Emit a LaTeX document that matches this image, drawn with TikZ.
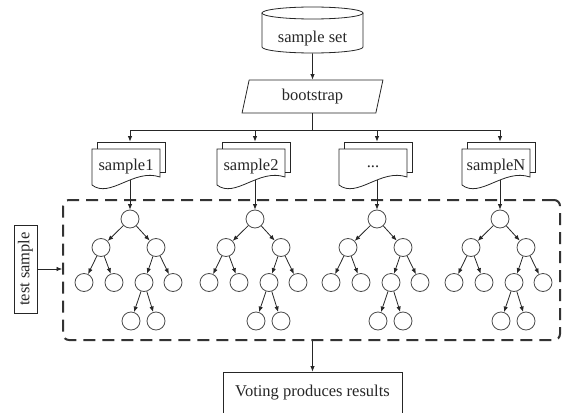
\documentclass[tikz,border=0pt]{standalone}
\usepackage{fontspec}
\setmainfont{Liberation Serif}
\usetikzlibrary{shapes.geometric,arrows.meta}
\newcommand\moredots{...}
\begin{document}
\begin{tikzpicture}[x=1pt,y=-1pt,line width=0.8pt,black!85,
	every node/.style={font=\fontsize{16.5}{18}\selectfont},
	arr/.style={-{Latex[length=5.5pt,width=4.5pt]}},
	leaf/.style={circle,draw=black!70,minimum size=18pt,inner sep=0pt},
	dashbox/.style={draw=black!80,line width=2pt,dash pattern=on 12pt off 7pt,rounded corners=6pt}]
	\useasboundingbox (0,0) rectangle (567,412);
	\clip (0,0) rectangle (567,412);
	% cylinder
	\draw (262,13) -- (262,47) arc (180:0:50.5 and 6) -- (363,13);
	\draw (312.5,13) ellipse (50.5 and 6);
	\node[minimum height=28pt,inner sep=0pt] (sset) at (312.5,39) {sample set};
	\node[trapezium,trapezium left angle=80,trapezium right angle=100,trapezium stretches=true,draw,minimum width=141pt,minimum height=33pt] (boot) at (312.5,96.5) {bootstrap};
	\draw[arr] (sset) -- (boot);
	\node[dashbox,minimum width=497pt,minimum height=140pt] (forest) at (311.5,270) {};
	\foreach \i/\x/\t in {1/130/sample1,2/255/sample2,3/377/\moredots,4/500/sampleN} {
		\coordinate (b\i) at (\x,130);
		\coordinate (w\i) at (\x,180);
		% pages
		\draw (\x-33,149) -- (\x-33,142) -- (\x+35,142) -- (\x+35,172) -- (\x+30,172);
		\draw (\x-38,149) -- (\x-38,185) .. controls (\x-20,199) and (\x+4,168) .. (\x+30,177) -- (\x+30,149) -- cycle;
		\node[minimum width=68pt,minimum height=50pt,inner sep=0pt] (d\i) at (\x-4,167) {\t};
		\draw[arr] (b\i) -- (b\i |- d\i.north);
		% tree
		\node[leaf] (r\i) at (\x,219) {};
		\node[leaf] (la\i) at (\x-29,247.5) {};
		\node[leaf] (lb\i) at (\x+26,247.5) {};
		\node[leaf] (ma\i) at (\x-46,282.5) {};
		\node[leaf] (mb\i) at (\x-16,282.5) {};
		\node[leaf] (mc\i) at (\x+14,282.5) {};
		\node[leaf] (md\i) at (\x+43,282.5) {};
		\node[leaf] (na\i) at (\x+1,321) {};
		\node[leaf] (nb\i) at (\x+26,321) {};
		\draw[arr] (w\i) -- (r\i);
		\draw[arr] (r\i) -- (la\i);
		\draw[arr] (r\i) -- (lb\i);
		\draw[arr] (la\i) -- (ma\i);
		\draw[arr] (la\i) -- (mb\i);
		\draw[arr] (lb\i) -- (mc\i);
		\draw[arr] (lb\i) -- (md\i);
		\draw[arr] (mc\i) -- (na\i);
		\draw[arr] (mc\i) -- (nb\i);
	}
	\draw (boot.south) -- (boot.south |- b1);
	\draw (b1) -- (b4);
	\node[draw,rotate=90,minimum width=88pt,minimum height=23pt,inner sep=0pt] (ts) at (25.5,269) {test sample};
	\draw[arr,line width=0.6pt] (ts) -- (ts -| forest.west);
	\node[draw,minimum width=179pt,minimum height=42pt] (vote) at (312.5,393) {Voting produces results};
	\draw[arr] (forest.south -| vote) -- (vote);
\end{tikzpicture}
\end{document}
